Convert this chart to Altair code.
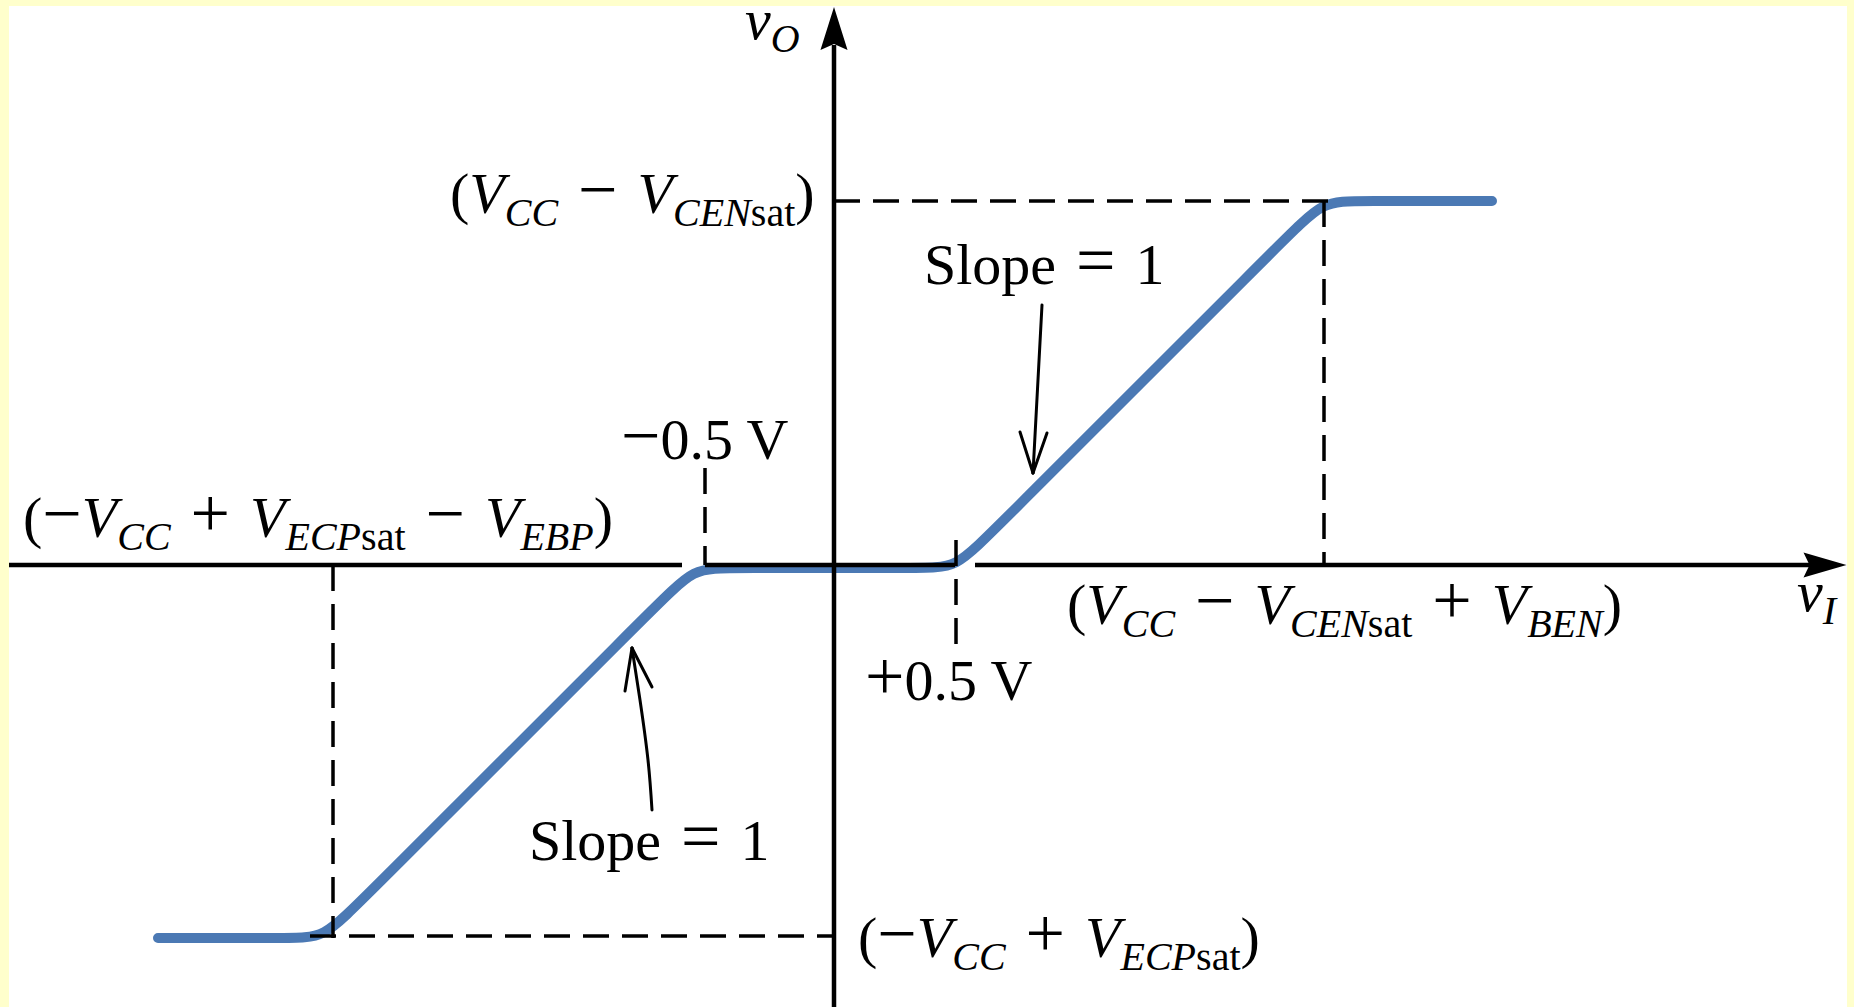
import altair as alt
import pandas as pd

# Drawing units: origin at the axis crossing, 1 unit = 100 px on screen.
PX = 100

# Transfer characteristic v_O(v_I): knots of the rounded piecewise-linear curve
VI_KNOTS = [-6.76, -5.45, -5.10, -4.75, -1.75, -1.40, -1.05, 0.87, 1.22, 1.57, 4.54, 4.89, 5.24, 6.58]
VO_KNOTS = [-3.73, -3.73, -3.73, -3.38, -0.38, -0.03, -0.03, -0.03, -0.03, 0.32, 3.29, 3.64, 3.64, 3.64]

# Dashed guide lines (start -> end)
GUIDE_X1 = [-5.01, -5.24, -1.29, 1.22, 0.00, 4.90]
GUIDE_Y1 = [0.00, -3.71, 0.97, 0.25, 3.64, 3.64]
GUIDE_X2 = [-5.01, 0.00, -1.29, 1.22, 5.04, 4.90]
GUIDE_Y2 = [-3.73, -3.71, 0.00, -0.79, 3.64, 0.00]

# Solid axis segments (x axis is broken where the curve leaves it)
AXIS_X1 = [-8.25, -1.29, 1.41, 0.00]
AXIS_Y1 = [0.00, 0.00, 0.00, -4.42]
AXIS_X2 = [-1.52, 1.21, 9.76, 0.00]
AXIS_Y2 = [0.00, 0.00, 0.00, 5.20]

# Axis arrowheads
HEAD_UP = (0.00, 5.365)
HEAD_RIGHT = (9.91, 0.00)

# "Slope = 1" pointers
UPPER_SHAFT = [(2.08, 2.60), (1.99, 0.92)]
UPPER_BARBS = [(1.86, 1.33), (2.13, 1.32)]
LOWER_SHAFT = [(-1.82, -2.45), (-1.86, -1.95), (-1.94, -1.35), (-2.02, -0.83)]
LOWER_BARBS = [(-2.09, -1.26), (-1.82, -1.22)]

# Labels: (left x, baseline y, [(text, style), ...])
LABELS = [
    (-3.84, 3.52, [("(", "rm"), ("V", "it"), ("CC", "sub"), ("", "gap"), ("\u2212", "op"), ("", "gap"),
                   ("V", "it"), ("CEN", "sub"), ("sat", "subr"), (")", "rm")]),
    (-8.11, 0.28, [("(", "rm"), ("\u2212", "op"), ("V", "it"), ("CC", "sub"), ("", "gap"), ("+", "op"), ("", "gap"),
                   ("V", "it"), ("ECP", "sub"), ("sat", "subr"), ("", "gap"), ("\u2212", "op"), ("", "gap"),
                   ("V", "it"), ("EBP", "sub"), (")", "rm")]),
    (2.33, -0.59, [("(", "rm"), ("V", "it"), ("CC", "sub"), ("", "gap"), ("\u2212", "op"), ("", "gap"),
                   ("V", "it"), ("CEN", "sub"), ("sat", "subr"), ("", "gap"), ("+", "op"), ("", "gap"),
                   ("V", "it"), ("BEN", "sub"), (")", "rm")]),
    (0.24, -3.92, [("(", "rm"), ("\u2212", "op"), ("V", "it"), ("CC", "sub"), ("", "gap"), ("+", "op"), ("", "gap"),
                   ("V", "it"), ("ECP", "sub"), ("sat", "subr"), (")", "rm")]),
    (-2.13, 1.06, [("\u2212", "op"), ("0.5 V", "rm")]),
    (0.31, -1.35, [("+", "op"), ("0.5 V", "rm")]),
    (0.90, 2.81, [("Slope", "rm"), ("", "gap"), ("=", "op"), ("", "gap"), ("1", "rm")]),
    (-3.05, -2.95, [("Slope", "rm"), ("", "gap"), ("=", "op"), ("", "gap"), ("1", "rm")]),
    (-0.89, 5.26, [("v", "it"), ("O", "sub")]),
    (9.63, -0.46, [("v", "it"), ("I", "sub")]),
]

FONT = "Liberation Serif"
MAIN_SIZE = 58
OP_SIZE = 70
SUB_SIZE = 40
SUB_DROP = 13   # px
GAP = 20        # px of space around + , minus and = signs
BLUE = "#4B79B4"

# Advance widths (per 1000 em) of the serif face, used to set label runs
ROMAN = {"(": 333, ")": 333, "\u2212": 564, "+": 564, " ": 250, "s": 389, "a": 444, "t": 278,
         "0": 500, "1": 500, "5": 500, ".": 250, "V": 722, "S": 556, "l": 278, "o": 500,
         "p": 500, "e": 444, "=": 564}
ITALIC = {"V": 611, "C": 667, "E": 611, "N": 667, "P": 611, "B": 611, "O": 722, "I": 333, "v": 444}
SIZES = {"rm": MAIN_SIZE, "it": MAIN_SIZE, "op": OP_SIZE, "sub": SUB_SIZE, "subr": SUB_SIZE}


def set_label(x0, y0, tokens):
    rows = []
    x = x0
    for text, style in tokens:
        if style == "gap":
            x += GAP / PX
            continue
        is_sub = style in ("sub", "subr")
        size = SIZES[style]
        table = ITALIC if style in ("it", "sub") else ROMAN
        y = y0 - (SUB_DROP / PX if is_sub else 0)
        rows.append({"text": text, "style": style, "x": x, "y": y})
        x += sum(table[c] for c in text) / 1000 * size / PX
    return rows


text_rows = []
for lx, ly, toks in LABELS:
    text_rows += set_label(lx, ly, toks)
texts = pd.DataFrame(text_rows)

curve = pd.DataFrame({"i": range(len(VI_KNOTS)), "vi": VI_KNOTS, "vo": VO_KNOTS})
guides = pd.DataFrame({"x": GUIDE_X1, "y": GUIDE_Y1, "x2": GUIDE_X2, "y2": GUIDE_Y2})
axes = pd.DataFrame({"x": AXIS_X1, "y": AXIS_Y1, "x2": AXIS_X2, "y2": AXIS_Y2})

barb_rows = [{"x": UPPER_SHAFT[-1][0], "y": UPPER_SHAFT[-1][1], "x2": bx, "y2": by} for bx, by in UPPER_BARBS]
barb_rows += [{"x": LOWER_SHAFT[-1][0], "y": LOWER_SHAFT[-1][1], "x2": bx, "y2": by} for bx, by in LOWER_BARBS]
barb_rows.append({"x": UPPER_SHAFT[0][0], "y": UPPER_SHAFT[0][1], "x2": UPPER_SHAFT[1][0], "y2": UPPER_SHAFT[1][1]})
barbs = pd.DataFrame(barb_rows)
lower_shaft = pd.DataFrame({"i": range(len(LOWER_SHAFT)),
                            "x": [p[0] for p in LOWER_SHAFT], "y": [p[1] for p in LOWER_SHAFT]})

XS = alt.Scale(domain=[-8.25, 10.13], nice=False, zero=False)
YS = alt.Scale(domain=[-4.42, 5.59], nice=False, zero=False)


def X(field):
    return alt.X(field, type="quantitative", scale=XS, axis=None)


def Y(field):
    return alt.Y(field, type="quantitative", scale=YS, axis=None)


line_vtc = alt.Chart(curve).mark_line(
    color=BLUE, strokeWidth=10, interpolate="basis", strokeCap="round"
).encode(x=X("vi"), y=Y("vo"), order=alt.Order("i:Q"))

dashed = alt.Chart(guides).mark_rule(color="black", strokeWidth=3.5, strokeDash=[26, 13]).encode(
    x=X("x"), y=Y("y"), x2="x2", y2="y2"
)

axis_lines = alt.Chart(axes).mark_rule(color="black", strokeWidth=4.5).encode(
    x=X("x"), y=Y("y"), x2="x2", y2="y2"
)

up_head = alt.Chart(pd.DataFrame({"x": [HEAD_UP[0]], "y": [HEAD_UP[1]]})).mark_point(
    shape="M0,-1L0.63,1L0,0.72L-0.63,1Z", filled=True, size=1849, color="black", opacity=1, strokeWidth=0
).encode(x=X("x"), y=Y("y"))

right_head = alt.Chart(pd.DataFrame({"x": [HEAD_RIGHT[0]], "y": [HEAD_RIGHT[1]]})).mark_point(
    shape="M1,0L-1,0.58L-0.72,0L-1,-0.58Z", filled=True, size=1849, color="black", opacity=1, strokeWidth=0
).encode(x=X("x"), y=Y("y"))

pointer_lines = alt.Chart(barbs).mark_rule(color="black", strokeWidth=3, strokeCap="round").encode(
    x=X("x"), y=Y("y"), x2="x2", y2="y2"
)

pointer_curve = alt.Chart(lower_shaft).mark_line(
    color="black", strokeWidth=3, interpolate="natural", strokeCap="round"
).encode(x=X("x"), y=Y("y"), order=alt.Order("i:Q"))


def text_layer(style, font_style):
    return alt.Chart(texts).transform_filter(alt.datum.style == style).mark_text(
        font=FONT, fontSize=SIZES[style], fontStyle=font_style, align="left", baseline="alphabetic", color="black"
    ).encode(x=X("x"), y=Y("y"), text="text:N")


chart = alt.layer(
    line_vtc,
    dashed,
    axis_lines,
    up_head,
    right_head,
    pointer_lines,
    pointer_curve,
    text_layer("rm", "normal"),
    text_layer("op", "normal"),
    text_layer("it", "italic"),
    text_layer("sub", "italic"),
    text_layer("subr", "normal"),
).properties(
    width=1838,
    height=1001,
    padding={"left": 9, "top": 6, "right": 7, "bottom": 0},
    autosize=alt.AutoSizeParams(type="none"),
    background="#FFFFCC",
).configure_view(strokeWidth=0, fill="white")

chart.save("out.html", embed_options={"renderer": "svg", "actions": False})
